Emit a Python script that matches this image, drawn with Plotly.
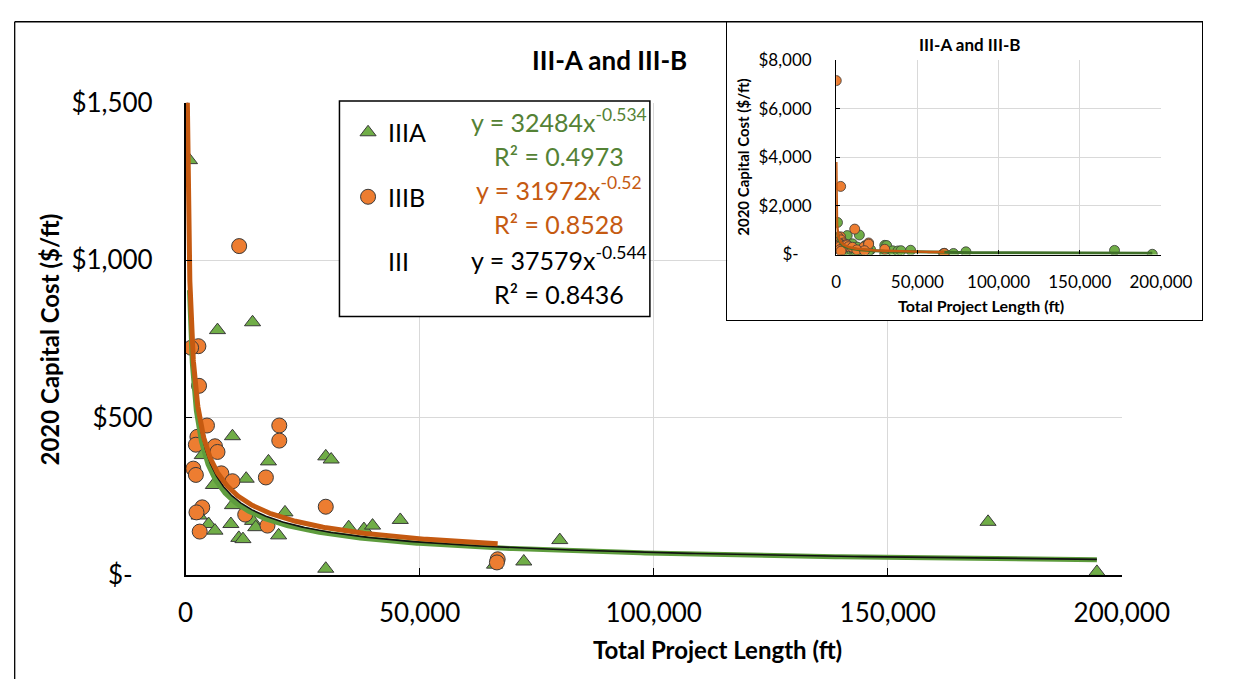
import numpy as np
import plotly.graph_objects as go

W, H = 1250, 694


def fx(p):
    return p / W


def fy(p):
    return 1 - p / H


FONT = "Lato"

# ---------------- data ----------------
iiia_len = [816, 6800, 14290, 10000, 3540, 17690, 29930, 31090, 12930, 5920,
            10000, 21220, 4900, 6260, 9660, 14290, 14970, 11360, 12240, 19860,
            2860, 29930, 34830, 38090, 39930, 45850, 65990, 72240, 79930,
            171430, 194690]
iiia_cost = [1318, 778, 803, 441, 381, 361, 377, 367, 306, 286,
             222, 199, 162, 141, 162, 172, 152, 118, 114, 126,
             189, 20, 152, 146, 157, 175, 33, 43, 111,
             169, 10]

iiib_len = [60, 2760, 11430, 2720, 1160, 2857, 4550, 2510, 2180, 6260,
            6800, 1630, 2180, 7620, 10000, 17140, 20000, 20000, 3540, 2310,
            12720, 3000, 17480, 29930, 66660, 66500]
iiib_cost = [7150, 2800, 1045, 727, 722, 601, 475, 439, 414, 409,
             391, 338, 318, 323, 298, 310, 475, 427, 215, 199,
             192, 138, 157, 217, 50, 40]

fit_names = ["IIIA", "IIIB", "III"]
fit_coef = [32484, 31972, 37579]
fit_exp = [-0.534, -0.52, -0.544]
fit_r2 = [0.4973, 0.8528, 0.8436]

x_ticks = [0, 50000, 100000, 150000, 200000]
x_ticktext = ["0", "50,000", "100,000", "150,000", "200,000"]
y_ticks = [0, 500, 1000, 1500]
y_ticktext = ["$-\u00a0\u00a0\u00a0", "$500", "$1,000", "$1,500"]
inset_y_ticks = [0, 2000, 4000, 6000, 8000]
inset_y_ticktext = ["$-\u00a0\u00a0\u00a0", "$2,000", "$4,000", "$6,000", "$8,000"]

GREEN = "#70AD47"
GREEN_LINE = "#5E9C3D"
GREEN_DARK = "#3F6F28"
ORANGE = "#ED7D31"
ORANGE_LINE = "#C55A11"
GREEN_TXT = "#548235"
EDGE = "#3A3A3A"


def trend(xs, i):
    xx = np.geomspace(min(xs), max(xs), 600)
    return xx, fit_coef[i] * xx ** fit_exp[i]


all_len = iiia_len + iiib_len
tA = trend(iiia_len, 0)
tB = trend(iiib_len, 1)
tAll = trend(all_len, 2)

fig = go.Figure()

# ---------- main chart ----------
fig.add_trace(go.Scatter(x=iiia_len, y=iiia_cost, mode="markers", name="IIIA",
                         legendgroup="a",
                         marker=dict(symbol="triangle-up", size=14, color=GREEN,
                                     line=dict(color=EDGE, width=1)),
                         xaxis="x", yaxis="y"))
fig.add_trace(go.Scatter(x=iiib_len, y=iiib_cost, mode="markers", name="IIIB",
                         legendgroup="b",
                         marker=dict(symbol="circle", size=15, color=ORANGE,
                                     line=dict(color=EDGE, width=1)),
                         xaxis="x", yaxis="y"))
fig.add_trace(go.Scatter(x=[None], y=[None], mode="markers", name="III",
                         legendgroup="c",
                         marker=dict(size=10, color="rgba(0,0,0,0)"),
                         xaxis="x", yaxis="y"))
fig.add_trace(go.Scatter(x=tA[0], y=tA[1], mode="lines", showlegend=False,
                         line=dict(color=GREEN_LINE, width=5), hoverinfo="skip",
                         xaxis="x", yaxis="y"))
fig.add_trace(go.Scatter(x=tAll[0], y=tAll[1], mode="lines", showlegend=False,
                         line=dict(color="#111111", width=1.6), hoverinfo="skip",
                         xaxis="x", yaxis="y"))
fig.add_trace(go.Scatter(x=tB[0], y=tB[1], mode="lines", showlegend=False,
                         line=dict(color=ORANGE_LINE, width=5), hoverinfo="skip",
                         xaxis="x", yaxis="y"))

# ---------- inset cover (white panel with frame) ----------
fig.add_trace(go.Scatter(x=[None], y=[None], showlegend=False, hoverinfo="skip",
                         xaxis="x2", yaxis="y2"))

# ---------- inset chart ----------
fig.add_trace(go.Scatter(x=iiia_len, y=iiia_cost, mode="markers", showlegend=False,
                         marker=dict(symbol="circle", size=10, color=GREEN,
                                     line=dict(color=EDGE, width=0.8)),
                         xaxis="x3", yaxis="y3"))
fig.add_trace(go.Scatter(x=iiib_len, y=iiib_cost, mode="markers", showlegend=False,
                         marker=dict(symbol="circle", size=10, color=ORANGE,
                                     line=dict(color=EDGE, width=0.8)),
                         xaxis="x3", yaxis="y3"))
fig.add_trace(go.Scatter(x=tA[0], y=tA[1], mode="lines", showlegend=False,
                         line=dict(color=GREEN_DARK, width=3), hoverinfo="skip",
                         xaxis="x3", yaxis="y3"))
fig.add_trace(go.Scatter(x=tB[0], y=tB[1], mode="lines", showlegend=False,
                         line=dict(color=ORANGE_LINE, width=2.5), hoverinfo="skip",
                         xaxis="x3", yaxis="y3"))

axis_common = dict(showgrid=True, gridcolor="#D9D9D9", gridwidth=1,
                   showline=True, linecolor="black", linewidth=1.5,
                   ticks="inside", tickcolor="black", zeroline=False,
                   tickfont=dict(family=FONT, size=26, color="black"))

fig.update_layout(
    width=W, height=H, autosize=False,
    margin=dict(l=0, r=0, t=0, b=0, pad=0),
    paper_bgcolor="white", plot_bgcolor="white",
    font=dict(family=FONT, color="black"),
    showlegend=True,
    legend=dict(x=fx(356), y=fy(97), xanchor="left", yanchor="top",
                bgcolor="rgba(0,0,0,0)", borderwidth=0,
                traceorder="grouped", tracegroupgap=29,
                font=dict(family=FONT, size=25, color="black")),
    xaxis=dict(domain=[fx(186), fx(1166)], range=[0, 200000], anchor="y",
               tickvals=x_ticks, ticktext=x_ticktext, ticklen=7,
               ticklabelstandoff=14, **axis_common),
    yaxis=dict(domain=[fy(585), fy(90)], range=[0, 1500], anchor="x",
               tickvals=y_ticks, ticktext=y_ticktext, ticklen=7,
               ticklabelstandoff=26, **axis_common),
    xaxis2=dict(domain=[fx(753), 1.0], range=[0, 1], anchor="y2",
                showgrid=False, zeroline=False, showticklabels=False, ticks="",
                showline=True, mirror=True, linecolor="black", linewidth=1.3),
    yaxis2=dict(domain=[fy(318), fy(5)], range=[0, 1], anchor="x2",
                showgrid=False, zeroline=False, showticklabels=False, ticks="",
                showline=True, mirror=True, linecolor="black", linewidth=1.3),
    xaxis3=dict(domain=[fx(867), fx(1207)], range=[0, 200000], anchor="y3",
                tickvals=x_ticks, ticktext=x_ticktext, ticklen=4,
                showgrid=True, gridcolor="#D9D9D9", showline=True,
                linecolor="black", linewidth=1.2, ticks="inside",
                tickcolor="black", zeroline=False, ticklabelstandoff=12,
                tickfont=dict(family=FONT, size=17, color="black")),
    yaxis3=dict(domain=[fy(249), fy(45)], range=[0, 8000], anchor="x3",
                tickvals=inset_y_ticks, ticktext=inset_y_ticktext, ticklen=4,
                showgrid=True, gridcolor="#D9D9D9", showline=True,
                linecolor="black", linewidth=1.2, ticks="inside",
                tickcolor="black", zeroline=False, ticklabelstandoff=20,
                tickfont=dict(family=FONT, size=17, color="black")),
)

shapes = [
    # outer chart frame (left and top edges)
    dict(type="line", xref="paper", yref="paper", x0=fx(7), x1=fx(7),
         y0=0, y1=fy(5), line=dict(color="black", width=1.3), layer="above"),
    dict(type="line", xref="paper", yref="paper", x0=fx(7), x1=1,
         y0=fy(5), y1=fy(5), line=dict(color="black", width=1.3), layer="above"),
    # legend box
    dict(type="rect", xref="paper", yref="paper", x0=fx(347), x1=fx(672),
         y0=fy(314), y1=fy(88), line=dict(color="black", width=1.5),
         fillcolor="white", layer="above"),
]
fig.update_layout(shapes=shapes)

ann = []


def add_text(text, x, y, size, color="black", bold=False, angle=0):
    t = f"<b>{text}</b>" if bold else text
    ann.append(dict(text=t, x=fx(x), y=fy(y), xref="paper", yref="paper",
                    showarrow=False, xanchor="center", yanchor="middle",
                    textangle=angle,
                    font=dict(family=FONT, size=size, color=color)))


add_text("III-A and III-B", 630, 45, 26, bold=True)
add_text("Total Project Length (ft)", 743, 663, 24, bold=True)
add_text("2020 Capital Cost ($/ft)", 43, 338, 24, bold=True, angle=-90)

add_text("III-A and III-B", 1007, 29, 17, bold=True)
add_text("Total Project Length (ft)", 1019, 302, 16, bold=True)
add_text("2020 Capital Cost ($/ft)", 770, 147, 15, bold=True, angle=-90)

eq_colors = [GREEN_TXT, ORANGE_LINE, "black"]
eq_y = [(108, 146), (180, 217), (253, 290)]
for i in range(3):
    add_text(f"y = {fit_coef[i]}x<sup>{fit_exp[i]:g}</sup>", 577, eq_y[i][0], 25,
             color=eq_colors[i])
    add_text(f"R² = {fit_r2[i]:.4f}", 577, eq_y[i][1], 25, color=eq_colors[i])

fig.update_layout(annotations=ann)

fig.write_html("out.html", config={"displayModeBar": False})
